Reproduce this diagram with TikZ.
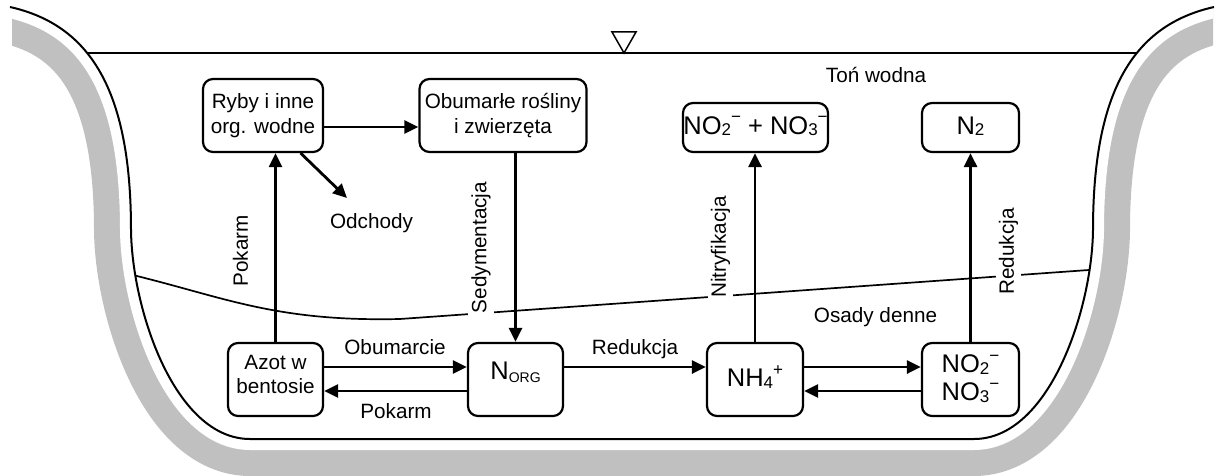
\documentclass[tikz,border=0pt]{standalone}
\usepackage{fontspec}
\setmainfont{Liberation Sans}
\usetikzlibrary{arrows.meta}
\definecolor{bankgray}{RGB}{192,192,192}
\newcommand\subs[1]{\raisebox{-1.5pt}{\fontsize{17}{17}\selectfont #1}}
\newcommand\sups[1]{\raisebox{11.5pt}{\fontsize{17}{17}\selectfont #1}}
\newcommand\subsorg[1]{\raisebox{-2.7pt}{\fontsize{14}{14}\selectfont #1}}
\tikzset{
  box/.style={draw, line width=2.2pt, rounded corners=10pt, align=center, inner sep=0pt},
  txt/.style={font=\fontsize{20.7}{24.5}\selectfont},
  chem/.style={font=\fontsize{25.5}{28}\selectfont},
  arr/.style={line width=2.8pt, -{Triangle[length=14pt,width=13pt]}},
  lbl/.style={font=\fontsize{20.7}{24.5}\selectfont, inner sep=3pt},
  vlbl/.style={lbl, rotate=90, fill=white},
  thinline/.style={line width=1.7pt},
}
\begin{document}
\begin{tikzpicture}[x=1pt,y=-1pt]
\useasboundingbox (0,0) rectangle (1215,476);
% gray bank band
\begin{scope}
  \clip (12,0) rectangle (1213,476);
  \clip (10,7) .. controls (90,25) and (131,90) .. (131,230) .. controls (132,310) and (175,439) .. (250,439) -- (974,439) .. controls (1049,439) and (1092,310) .. (1093,230) .. controls (1093,90) and (1134,25) .. (1214,7) -- (1300,7) -- (1300,600) -- (-100,600) -- (-100,7) -- cycle;
  \draw[bankgray, line width=74pt] (-70,-11) -- (10,7) .. controls (90,25) and (131,90) .. (131,230) .. controls (132,310) and (175,439) .. (250,439) -- (974,439) .. controls (1049,439) and (1092,310) .. (1093,230) .. controls (1093,90) and (1134,25) .. (1214,7) -- (1294,-11);
  \draw[white, line width=22pt] (-70,-11) -- (10,7) .. controls (90,25) and (131,90) .. (131,230) .. controls (132,310) and (175,439) .. (250,439) -- (974,439) .. controls (1049,439) and (1092,310) .. (1093,230) .. controls (1093,90) and (1134,25) .. (1214,7) -- (1294,-11);
\end{scope}
% water surface and sediment boundary
\begin{scope}
  \clip (10,7) .. controls (90,25) and (131,90) .. (131,230) .. controls (132,310) and (175,439) .. (250,439) -- (974,439) .. controls (1049,439) and (1092,310) .. (1093,230) .. controls (1093,90) and (1134,25) .. (1214,7) -- cycle;
  \draw[thinline] (0,53) -- (1215,53);
  \draw[thinline] (120,272) .. controls (220,295) and (270,322) .. (400,319) -- (1110,268.5);
\end{scope}
% bank line
\draw[line width=2pt] (10,7) .. controls (90,25) and (131,90) .. (131,230) .. controls (132,310) and (175,439) .. (250,439) -- (974,439) .. controls (1049,439) and (1092,310) .. (1093,230) .. controls (1093,90) and (1134,25) .. (1214,7);
% water level symbol
\draw[line width=1.5pt, fill=white] (612,32) -- (636,32) -- (624,53) -- cycle;
% boxes
\node[box,txt,minimum width=120pt,minimum height=73pt] (ryby) at (263,115.5) {Ryby i inne\\org. wodne};
\node[box,txt,minimum width=167pt,minimum height=73pt] (obum) at (503,115.5) {Obumarłe rośliny\\i zwierzęta};
\node[box,chem,minimum width=145pt,minimum height=49pt,text height=17pt,text depth=3.4pt] (nono3) at (755.5,127.5) {NO\subs{2}\sups{−} + NO\subs{3}\sups{−}};
\node[box,chem,minimum width=97pt,minimum height=49pt,text height=17pt,text depth=3.4pt] (ntwo) at (970.5,127.5) {N\subs{2}};
\node[box,txt,minimum width=95pt,minimum height=73pt] (azot) at (275.5,379.5) {Azot w\\bentosie\rule[-10pt]{0pt}{10pt}};
\node[box,chem,minimum width=95pt,minimum height=73pt,text height=12pt,text depth=12pt] (norg) at (515.5,379.5) {N\subsorg{ORG}};
\node[box,chem,minimum width=96pt,minimum height=73pt,text height=17pt,text depth=2.6pt] (nh) at (755,379.5) {NH\subs{4}\sups{+}};
\node[box,chem,minimum width=97pt,minimum height=73pt] (nox) at (970.5,379.5) {NO\subs{2}\sups{−}\\NO\subs{3}\sups{−}\rule[-3.5pt]{0pt}{3.5pt}};
% labels
\node[lbl,anchor=base] (lobum) at (395,354) {Obumarcie};
\node[lbl,anchor=base] (lpok2) at (396,418) {Pokarm};
\node[lbl,anchor=base] (lred1) at (635,354) {Redukcja};
\node[lbl,anchor=base] (lton) at (876,83) {Toń wodna};
\node[lbl,anchor=base] (losad) at (875.5,322) {Osady denne};
\node[lbl,anchor=base] (lodch) at (371.5,228) {Odchody};
\node[vlbl] (lpok1) at (240.5,251) {Pokarm};
\node[vlbl] (lsed) at (481,247.5) {Sedymentacja};
\node[vlbl] (lnit) at (720.5,247) {Nitryfikacja};
\node[vlbl] (lred2) at (1008.5,251.5) {Redukcja};
% arrows
\coordinate (odchend) at (347,198);
\draw[arr] ([yshift=-11.5pt]ryby.east) -- ([yshift=-11.5pt]obum.west);
\draw[arr] (ryby.-45) -- (odchend);
\draw[arr] (azot.north) -- (azot.north |- ryby.south);
\draw[arr] (obum.south -| norg.north) -- (norg.north);
\draw[arr] ([yshift=12.5pt]azot.east) -- ([yshift=12.5pt]norg.west);
\draw[arr] ([yshift=-11.5pt]norg.west) -- ([yshift=-11.5pt]azot.east);
\draw[arr] ([yshift=12.5pt]norg.east) -- ([yshift=12.5pt]nh.west);
\draw[arr] ([yshift=12.5pt]nh.east) -- ([yshift=12.5pt]nox.west);
\draw[arr] ([yshift=-11.5pt]nox.west) -- ([yshift=-11.5pt]nh.east);
\draw[arr] (nh.north) -- (nh.north |- nono3.south);
\draw[arr] (nox.north) -- (ntwo.south);
\end{tikzpicture}
\end{document}
